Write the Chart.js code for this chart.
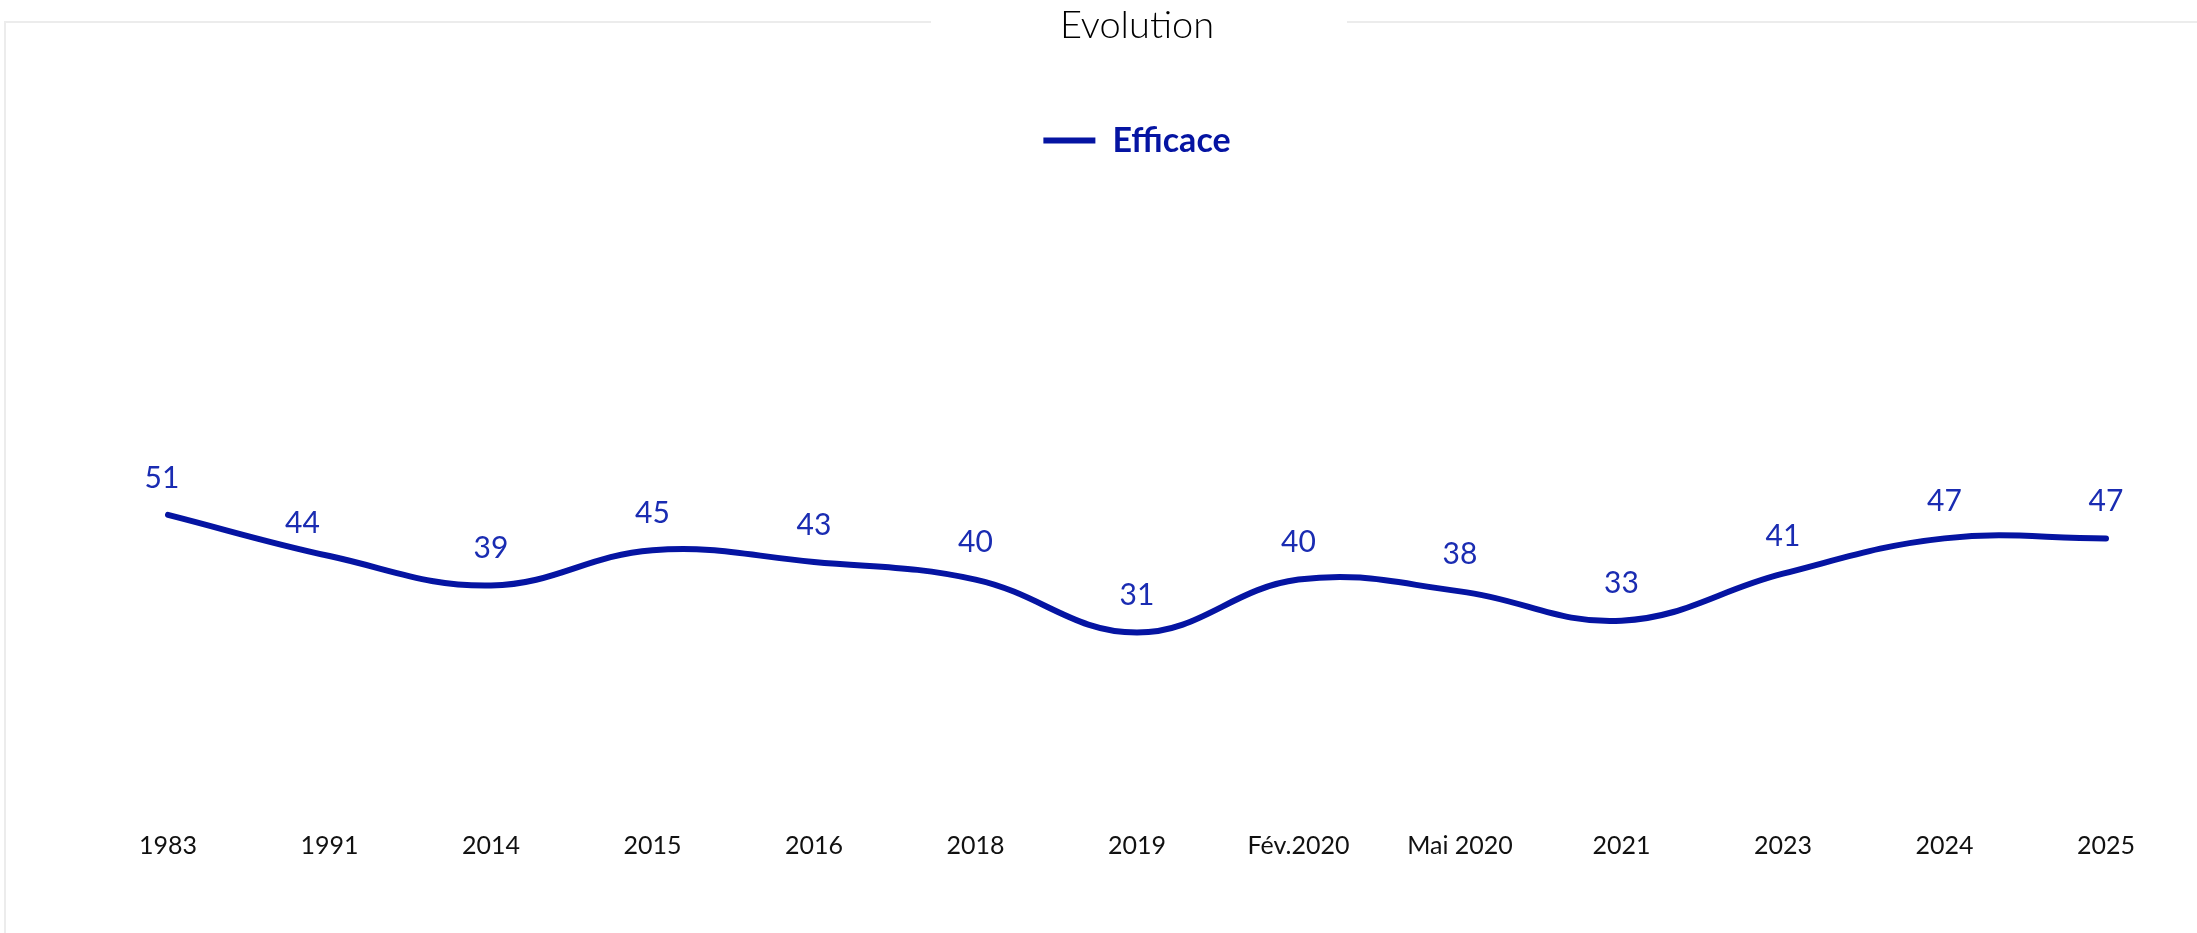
<!DOCTYPE html>
<html>
<head>
<meta charset="utf-8">
<script src="https://cdn.jsdelivr.net/npm/chart.js@4.4.1/dist/chart.umd.min.js"></script>
<style>
html,body{margin:0;padding:0;background:#fff;overflow:hidden}
canvas{display:block}
</style>
</head>
<body>
<canvas id="c" width="2197" height="933" style="width:2197px;height:933px"></canvas>
<script>
// ---- data ----
const categories = ['1983','1991','2014','2015','2016','2018','2019','Fév.2020','Mai 2020','2021','2023','2024','2025'];
const seriesName = 'Efficace';
const efficace = [51,44,39,45,43,40,31,40,38,33,41,47,47];
const chartTitle = 'Evolution';

const LINE_COLOR = '#0514a2';
const LABEL_COLOR = '#1a2cb2';
const FONT = "Lato, 'Open Sans', sans-serif";

const framePlugin = {
  id: 'frame',
  beforeDraw(chart) {
    const ctx = chart.ctx;
    ctx.save();
    ctx.fillStyle = '#ffffff';
    ctx.fillRect(0, 0, chart.width, chart.height);
    const t = chart.titleBlock;
    const cx = (t.left + t.right) / 2;
    ctx.strokeStyle = '#ececec';
    ctx.lineWidth = 2;
    ctx.beginPath();
    ctx.moveTo(5, chart.height);
    ctx.lineTo(5, 22);
    ctx.lineTo(cx - 206, 22);
    ctx.moveTo(cx + 210, 22);
    ctx.lineTo(chart.width, 22);
    ctx.stroke();
    ctx.restore();
  }
};

const valueLabelsPlugin = {
  id: 'valueLabels',
  afterDatasetsDraw(chart, args, opts) {
    const ctx = chart.ctx;
    ctx.save();
    ctx.font = opts.font;
    ctx.fillStyle = opts.color;
    ctx.textAlign = 'center';
    ctx.textBaseline = 'middle';
    chart.data.datasets.forEach((ds, di) => {
      const meta = chart.getDatasetMeta(di);
      meta.data.forEach((pt, i) => {
        const sh = (opts.shift && opts.shift[i]) || [0, 0];
        ctx.fillText(String(ds.data[i]), pt.x + sh[0], pt.y - opts.offset + sh[1]);
      });
    });
    ctx.restore();
  }
};

new Chart(document.getElementById('c'), {
  type: 'line',
  data: {
    labels: categories,
    datasets: [{
      label: seriesName,
      data: efficace,
      borderColor: LINE_COLOR,
      backgroundColor: LINE_COLOR,
      borderWidth: 6,
      borderCapStyle: 'round',
      borderJoinStyle: 'round',
      pointRadius: 0,
      pointHoverRadius: 0,
      pointStyle: 'line',
      tension: 0.4,
      fill: false,
      clip: false
    }]
  },
  options: {
    responsive: false,
    devicePixelRatio: 1,
    animation: false,
    events: [],
    layout: { padding: { left: 168, right: 91, top: 0, bottom: 56 } },
    plugins: {
      title: {
        display: true,
        text: chartTitle,
        color: '#000000',
        font: { family: FONT, size: 38, weight: '300' },
        padding: { top: 3, bottom: 65 }
      },
      legend: {
        display: true,
        position: 'top',
        labels: {
          usePointStyle: true,
          pointStyleWidth: 52,
          padding: 10,
          color: LINE_COLOR,
          font: { family: FONT, size: 34, weight: 'bold' }
        }
      },
      tooltip: { enabled: false },
      valueLabels: {
        font: "30px " + FONT,
        color: LABEL_COLOR,
        offset: 37,
        shift: { 0: [-6, 0], 1: [-27, 4] }
      }
    },
    scales: {
      x: {
        offset: false,
        grid: { display: false, drawTicks: false },
        border: { display: false },
        ticks: {
          color: '#111111',
          font: { family: FONT, size: 25 },
          padding: 16,
          maxRotation: 0,
          autoSkip: false
        }
      },
      y: {
        display: false,
        min: 0,
        max: 110
      }
    }
  },
  plugins: [framePlugin, valueLabelsPlugin]
});
</script>
</body>
</html>
